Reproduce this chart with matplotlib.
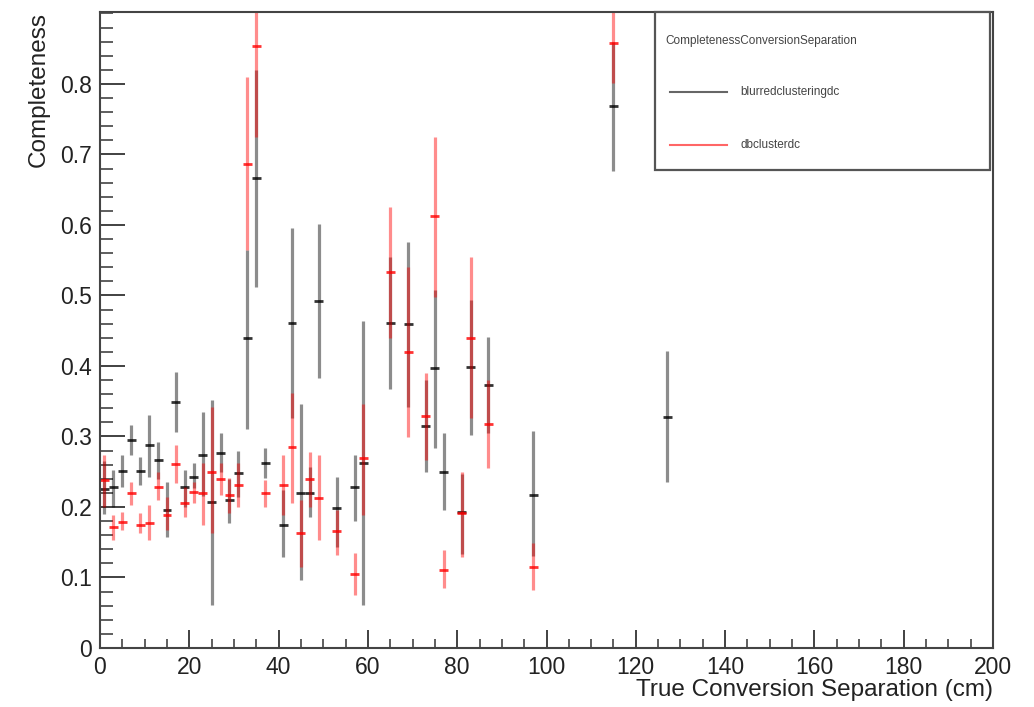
import numpy as np
import matplotlib.pyplot as plt
from matplotlib.patches import Rectangle
from matplotlib.ticker import MultipleLocator

plt.rcParams['font.family'] = ['Liberation Sans', 'DejaVu Sans']

# blurredclusteringdc (black)
blur_x = [1, 3, 5, 7, 9, 11, 13, 15, 17, 19, 21, 23, 25, 27, 29, 31, 33, 35, 37,
          41, 43, 45, 47, 49, 53, 57, 59, 65, 69, 73, 75, 77, 81, 83, 87, 97, 115, 127]
blur_y = [0.225, 0.229, 0.251, 0.295, 0.251, 0.288, 0.267, 0.196, 0.349, 0.229,
          0.243, 0.274, 0.207, 0.277, 0.210, 0.248, 0.440, 0.667, 0.263,
          0.174, 0.461, 0.220, 0.220, 0.492, 0.198, 0.228, 0.262, 0.461, 0.460,
          0.315, 0.397, 0.250, 0.193, 0.398, 0.373, 0.217, 0.768, 0.328]
blur_lo = [0.190, 0.200, 0.229, 0.274, 0.231, 0.243, 0.240, 0.158, 0.307, 0.200,
           0.227, 0.215, 0.061, 0.250, 0.177, 0.214, 0.310, 0.512, 0.241,
           0.129, 0.326, 0.096, 0.186, 0.383, 0.143, 0.180, 0.061, 0.367, 0.342,
           0.250, 0.284, 0.196, 0.133, 0.302, 0.305, 0.130, 0.677, 0.235]
blur_hi = [0.265, 0.253, 0.274, 0.316, 0.271, 0.330, 0.292, 0.235, 0.392, 0.253,
           0.262, 0.335, 0.352, 0.305, 0.240, 0.280, 0.565, 0.820, 0.283,
           0.224, 0.596, 0.346, 0.257, 0.601, 0.243, 0.274, 0.464, 0.555, 0.576,
           0.380, 0.508, 0.305, 0.247, 0.494, 0.441, 0.308, 0.860, 0.421]

# dbclusterdc (red)
db_x = [1, 3, 5, 7, 9, 11, 13, 15, 17, 19, 21, 23, 25, 27, 29, 31, 33, 35, 37,
        41, 43, 45, 47, 49, 53, 57, 59, 65, 69, 73, 75, 77, 81, 83, 87, 97, 115]
db_y = [0.238, 0.172, 0.179, 0.220, 0.174, 0.177, 0.229, 0.189, 0.261, 0.205,
        0.221, 0.220, 0.250, 0.240, 0.217, 0.231, 0.687, 0.854, 0.220,
        0.231, 0.285, 0.163, 0.240, 0.213, 0.166, 0.105, 0.269, 0.533, 0.420,
        0.329, 0.612, 0.111, 0.191, 0.440, 0.318, 0.115, 0.858]
db_lo = [0.200, 0.153, 0.167, 0.203, 0.163, 0.153, 0.210, 0.167, 0.234, 0.186,
         0.205, 0.174, 0.163, 0.217, 0.191, 0.200, 0.565, 0.725, 0.200,
         0.189, 0.205, 0.115, 0.200, 0.153, 0.132, 0.075, 0.189, 0.440, 0.299,
         0.267, 0.498, 0.085, 0.129, 0.326, 0.255, 0.082, 0.801]
db_hi = [0.274, 0.189, 0.193, 0.235, 0.191, 0.203, 0.250, 0.214, 0.288, 0.229,
         0.235, 0.262, 0.342, 0.262, 0.241, 0.262, 0.810, 0.980, 0.238,
         0.274, 0.361, 0.210, 0.278, 0.274, 0.196, 0.135, 0.346, 0.625, 0.540,
         0.390, 0.725, 0.139, 0.250, 0.555, 0.380, 0.149, 0.980]

bin_half = 1.0

fig = plt.figure(figsize=(10.34, 7.07), dpi=100)
ax = fig.add_axes([100/1034, 59/707, 893/1034, 636/707])

def draw_series(x, y, lo, hi, color):
    x = np.array(x); y = np.array(y)
    yerr = [y - np.array(lo), np.array(hi) - y]
    ax.errorbar(x, y, yerr=yerr, fmt='none', ecolor=color, elinewidth=2.3,
                capsize=0, alpha=0.45)
    ax.errorbar(x, y, xerr=bin_half, fmt='none', ecolor=color, elinewidth=2.0,
                capsize=0, alpha=0.8)

draw_series(blur_x, blur_y, blur_lo, blur_hi, 'black')
draw_series(db_x, db_y, db_lo, db_hi, 'red')

ax.set_xlim(0, 200)
ax.set_ylim(0, 0.902)
ax.xaxis.set_major_locator(MultipleLocator(20))
ax.xaxis.set_minor_locator(MultipleLocator(5))
ax.yaxis.set_minor_locator(MultipleLocator(0.02))
ax.set_yticks(np.arange(0, 0.85, 0.1))
ax.set_yticklabels(['0'] + ['%.1f' % v for v in np.arange(0.1, 0.85, 0.1)])

ax.tick_params(axis='both', which='both', direction='in', colors='#333333',
               labelcolor='#222222', labelsize=16.5, top=False, right=False)
ax.tick_params(axis='x', which='major', length=13, width=1.3, pad=6)
ax.tick_params(axis='x', which='minor', length=6.5, width=1.1)
ax.tick_params(axis='y', which='major', length=18, width=1.3, pad=6)
ax.tick_params(axis='y', which='minor', length=9, width=1.1)
for s in ax.spines.values():
    s.set_color('#444444')
    s.set_linewidth(1.5)

ax.set_xlabel('True Conversion Separation (cm)', fontsize=17.5, color='#222222')
ax.xaxis.set_label_coords(1.0, -0.048)
ax.xaxis.label.set_ha('right')
ax.set_ylabel('Completeness', fontsize=17.5, color='#222222')
ax.yaxis.set_label_coords(-0.069, 1.0)
ax.yaxis.label.set_ha('right')
ax.yaxis.label.set_va('center')

# ROOT style legend box
lx0, ly0 = (655 - 100) / 893, (648 - 170) / 636
lw_, lh_ = (990 - 655) / 893, 1.0 - ly0
ax.add_patch(Rectangle((lx0, ly0), lw_, lh_, transform=ax.transAxes,
                       facecolor='white', edgecolor='#555555', lw=1.6,
                       zorder=5, clip_on=False))
ax.text((665 - 100) / 893, (648 - 41) / 636, 'CompletenessConversionSeparation',
        transform=ax.transAxes, fontsize=8.5, color='#444444', va='center', zorder=6)
leg_entries = [('blurredclusteringdc', 'black', 92), ('dbclusterdc', 'red', 145)]
for name, color, ypx in leg_entries:
    yy = (648 - ypx) / 636
    ax.plot([(670 - 100) / 893, (727 - 100) / 893], [yy, yy], color=color,
            alpha=0.6, lw=1.5, transform=ax.transAxes, zorder=6, clip_on=False)
    ax.text((740 - 100) / 893, yy, name, transform=ax.transAxes, fontsize=8.5,
            color='#444444', va='center', zorder=6)

fig.savefig('out.png', dpi=100, facecolor='white')
